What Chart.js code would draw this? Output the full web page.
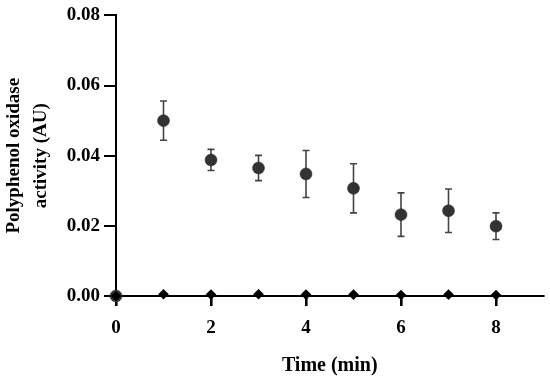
<!DOCTYPE html>
<html>
<head>
<meta charset="utf-8">
<script src="https://cdn.jsdelivr.net/npm/chart.js@4.4.0/dist/chart.umd.min.js"></script>
<style>
html,body{margin:0;padding:0;background:#fff;}
#wrap{width:550px;height:378px;position:relative;}
</style>
</head>
<body>
<div id="wrap"><canvas id="c" width="550" height="378"></canvas></div>
<script>
// Data
const timeMin = [0, 1, 2, 3, 4, 5, 6, 7, 8];
const activityMean = [0, 0.050, 0.0388, 0.0365, 0.0348, 0.0307, 0.0232, 0.0243, 0.0199];
const activitySD = [0, 0.0056, 0.0030, 0.0036, 0.0067, 0.0070, 0.0062, 0.0062, 0.0038];
const controlMean = [0, 0.0005, 0.0004, 0.0005, 0.0004, 0.0004, 0.0003, 0.0004, 0.0003];
const xTicks = [0, 2, 4, 6, 8];
const yTicks = [0, 0.02, 0.04, 0.06, 0.08];

const FONT = "'Liberation Serif', 'Times New Roman', serif";

const errorBars = {
  id: 'errorBars',
  beforeDatasetsDraw(chart) {
    const ctx = chart.ctx;
    const xs = chart.scales.x, ys = chart.scales.y;
    ctx.save();
    ctx.strokeStyle = '#444';
    ctx.lineWidth = 1.6;
    const cap = 3.5;
    timeMin.forEach((t, i) => {
      const sd = activitySD[i];
      if (!sd) return;
      const x = xs.getPixelForValue(t);
      const yt = ys.getPixelForValue(activityMean[i] + sd);
      const yb = ys.getPixelForValue(activityMean[i] - sd);
      ctx.beginPath();
      ctx.moveTo(x, yt); ctx.lineTo(x, yb);
      ctx.moveTo(x - cap, yt); ctx.lineTo(x + cap, yt);
      ctx.moveTo(x - cap, yb); ctx.lineTo(x + cap, yb);
      ctx.stroke();
    });
    ctx.restore();
  }
};

new Chart(document.getElementById('c'), {
  type: 'scatter',
  data: {
    datasets: [
      {
        label: 'Control',
        data: timeMin.map((t, i) => ({x: t, y: controlMean[i]})),
        pointStyle: 'rectRot',
        pointRadius: 5.3,
        backgroundColor: '#000',
        borderColor: '#000',
        borderWidth: 0,
        clip: false
      },
      {
        label: 'Activity',
        data: timeMin.map((t, i) => ({x: t, y: activityMean[i]})),
        pointStyle: 'circle',
        pointRadius: 6,
        backgroundColor: '#333',
        borderColor: '#2a2a2a',
        borderWidth: 0.5,
        clip: false
      }
    ]
  },
  options: {
    responsive: false,
    animation: false,
    events: [],
    layout: {padding: {top: 0, right: 5, bottom: 0, left: 0}},
    plugins: {legend: {display: false}, tooltip: {enabled: false}},
    scales: {
      x: {
        type: 'linear',
        min: 0, max: 9,
        afterBuildTicks: s => { s.ticks = xTicks.map(v => ({value: v})); },
        afterFit: s => { s.height = 82; },
        ticks: {color: '#000', font: {family: FONT, size: 19, weight: 'bold'}, padding: 11, callback: v => String(v)},
        grid: {drawOnChartArea: false, drawTicks: true, tickLength: 10, color: '#000', lineWidth: 2.6},
        border: {color: '#000', width: 2},
        title: {display: true, text: 'Time (min)', color: '#000', font: {family: FONT, size: 20, weight: 'bold'}, padding: {top: 6, bottom: 0}}
      },
      y: {
        type: 'linear',
        min: 0, max: 0.08,
        afterBuildTicks: s => { s.ticks = yTicks.map(v => ({value: v})); },
        afterFit: s => { s.width = 116; },
        ticks: {color: '#000', font: {family: FONT, size: 19, weight: 'bold'}, padding: 4, callback: v => Number(v).toFixed(2)},
        grid: {drawOnChartArea: false, drawTicks: true, tickLength: 12, color: '#000', lineWidth: 2},
        border: {color: '#000', width: 2},
        title: {display: true, text: ['Polyphenol oxidase', 'activity (AU)'], color: '#000', font: {family: FONT, size: 19, weight: 'bold', lineHeight: 1.45}, padding: {top: 0, bottom: 0}}
      }
    }
  },
  plugins: [errorBars]
});
</script>
</body>
</html>
